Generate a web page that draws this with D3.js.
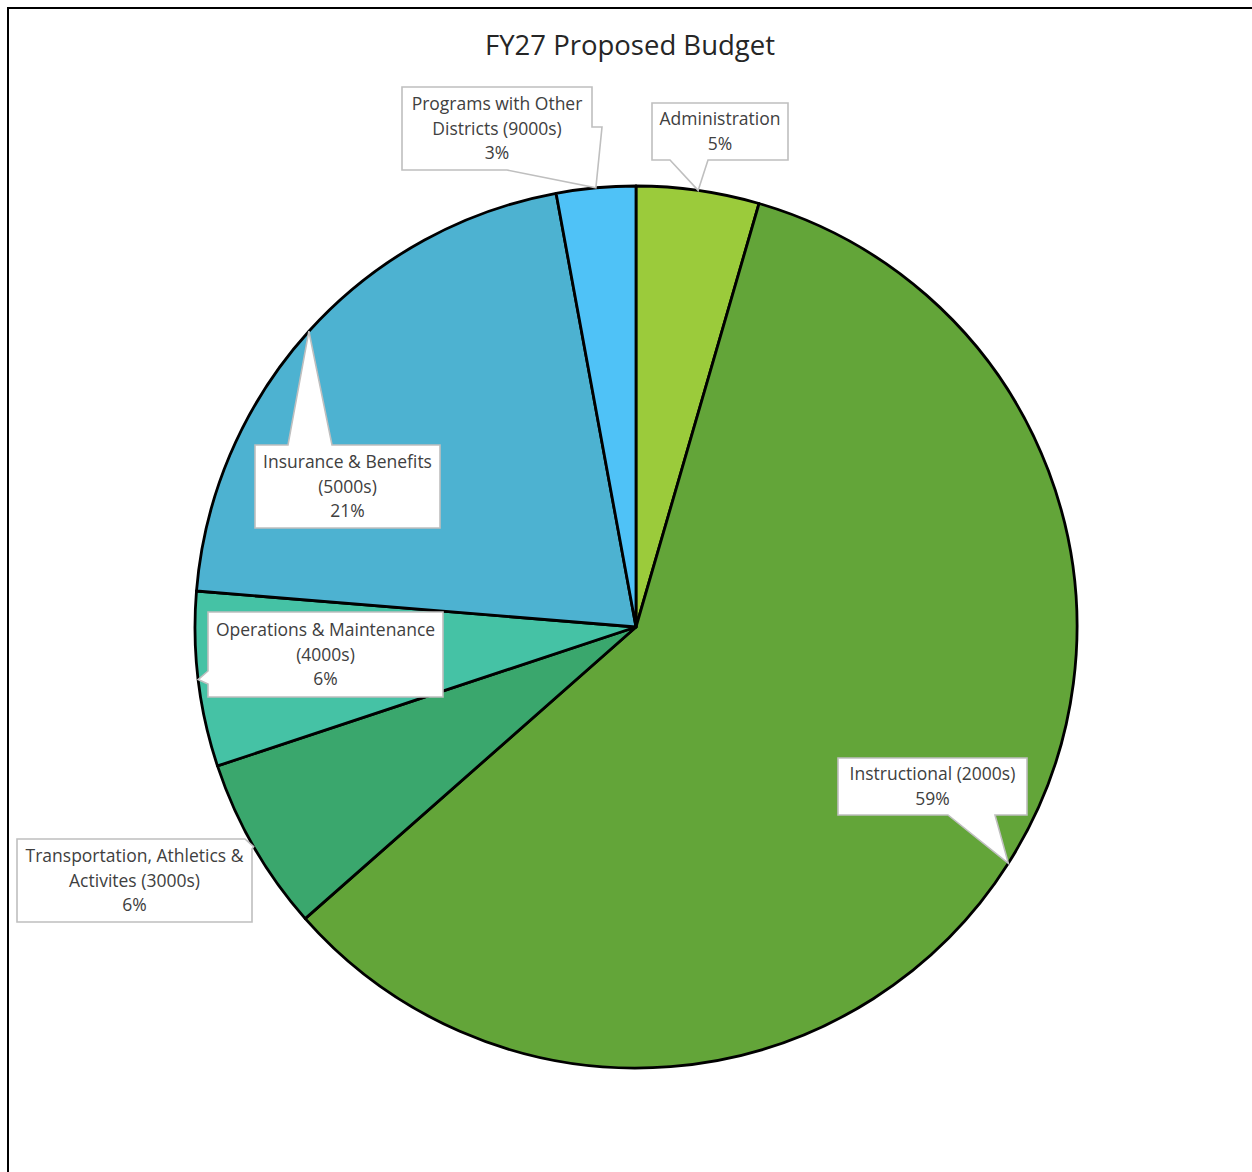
<!DOCTYPE html>
<html>
<head>
<meta charset="utf-8">
<script src="https://cdn.jsdelivr.net/npm/d3@7"></script>
<style>
  html, body { margin: 0; padding: 0; background: #fff; }
  svg { display: block; }
</style>
</head>
<body>
<svg id="chart" width="1252" height="1172"></svg>
<script>
// ---- data ----
const title = "FY27 Proposed Budget";
const categories = [
  "Administration",
  "Instructional (2000s)",
  "Transportation, Athletics & Activites (3000s)",
  "Operations & Maintenance (4000s)",
  "Insurance & Benefits (5000s)",
  "Programs with Other Districts (9000s)"
];
const labelLines = [
  ["Administration"],
  ["Instructional (2000s)"],
  ["Transportation, Athletics &", "Activites (3000s)"],
  ["Operations & Maintenance", "(4000s)"],
  ["Insurance & Benefits", "(5000s)"],
  ["Programs with Other", "Districts (9000s)"]
];
const values = [4.5, 59.0, 6.4, 6.4, 20.8, 2.9];
const colors = ["#9BCB3B", "#63A539", "#3AA76D", "#45C2A5", "#4DB2D1", "#4FC2F7"];

// ---- layout ----
const svg = d3.select("#chart");
const cx = 636, cy = 627, R = 441;

// outer frame (only top and left edges visible in the image)
svg.append("rect").attr("x", 8).attr("y", 8).attr("width", 1400).attr("height", 1400)
  .attr("fill", "none").attr("stroke", "#000").attr("stroke-width", 2);

svg.append("text").attr("x", 630).attr("y", 55).attr("text-anchor", "middle")
  .attr("font-family", "'Open Sans', sans-serif").attr("font-size", 27.5)
  .attr("fill", "#262626").text(title);

const pie = d3.pie().value(d => d).sort(null);
const arcs = pie(values);
const arc = d3.arc().innerRadius(0).outerRadius(R);

const g = svg.append("g").attr("transform", `translate(${cx},${cy})`);
g.selectAll("path.slice").data(arcs).join("path")
  .attr("class", "slice")
  .attr("d", arc)
  .attr("fill", (d, i) => colors[i])
  .attr("stroke", "#000").attr("stroke-width", 2.8).attr("stroke-linejoin", "round");

// callout boxes: [x0, y0, x1, y1], and polygon builder with tip inserted
const boxes = [
  [652, 103, 788, 160],
  [838, 758, 1027, 815],
  [17, 839, 252, 922],
  [208, 612, 443, 697],
  [255, 445, 440, 528],
  [402, 87, 592, 170]
];
const polys = [
  (b, t) => [[b[0], b[1]], [b[2], b[1]], [b[2], b[3]], [708, b[3]], t, [670, b[3]], [b[0], b[3]]],
  (b, t) => [[b[0], b[1]], [b[2], b[1]], [b[2], b[3]], [995, b[3]], t, [948, b[3]], [b[0], b[3]]],
  (b, t) => [[b[0], b[1]], [245, b[1]], t, [b[2], 849], [b[2], b[3]], [b[0], b[3]]],
  (b, t) => [[b[0], b[1]], [b[2], b[1]], [b[2], b[3]], [b[0], b[3]], [b[0], 684], t, [b[0], 671]],
  (b, t) => [[b[0], b[1]], [288, b[1]], t, [332, b[1]], [b[2], b[1]], [b[2], b[3]], [b[0], b[3]]],
  (b, t) => [[b[0], b[1]], [b[2], b[1]], [b[2], 127], [602, 127], t, [507, b[3]], [b[0], b[3]]]
];

const fmt = d3.format(".0%");
arcs.forEach((a, i) => {
  const mid = (a.startAngle + a.endAngle) / 2;
  const tip = [cx + R * Math.sin(mid), cy - R * Math.cos(mid)];
  const b = boxes[i];
  const pts = polys[i](b, tip);
  svg.append("path")
    .attr("d", d3.line()(pts) + "Z")
    .attr("fill", "#fff").attr("stroke", "#BFBFBF").attr("stroke-width", 1.6)
    .attr("stroke-linejoin", "miter");
  const lines = labelLines[i].concat([fmt(Math.round(a.value) / 100)]);
  const lh = 24.8;
  const midY = (b[1] + b[3]) / 2;
  const x = (b[0] + b[2]) / 2;
  const t = svg.append("text")
    .attr("font-family", "'Open Sans', sans-serif").attr("font-size", 17.5)
    .attr("fill", "#404040").attr("text-anchor", "middle");
  lines.forEach((ln, k) => {
    t.append("tspan").attr("x", x)
      .attr("y", midY + (k - (lines.length - 1) / 2) * lh + 6)
      .text(ln);
  });
});
</script>
</body>
</html>
